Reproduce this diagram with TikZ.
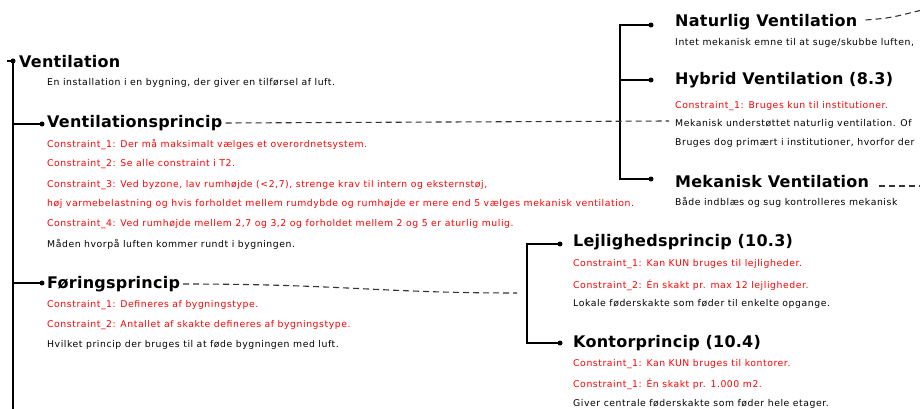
\documentclass[tikz,border=0pt]{standalone}
\usepackage{fontspec}
\setmainfont{DejaVu Sans}
\newfontfamily\titlefam[LetterSpace=1.5]{DejaVu Sans}
\newfontfamily\textfam[LetterSpace=6]{DejaVu Sans}
\begin{document}
\begin{tikzpicture}[x=1pt,y=-1pt,
  title/.style={anchor=west, inner sep=0pt, font=\titlefam\bfseries\fontsize{16}{18}\selectfont},
  desc/.style={anchor=west, inner sep=0pt, font=\textfam\fontsize{9.3}{11}\selectfont},
  con/.style={desc, text=red},
  dot/.style={circle, fill=black, inner sep=0pt, minimum size=5pt},
  branch/.style={line width=1.3pt, line join=miter},
  link/.style={dash pattern=on 6pt off 4pt, line width=1.1pt, black!80}]
\useasboundingbox (0,0) rectangle (920,409);
\clip (0,0) rectangle (920,409);

% ---- root ----
\node[dot] (ventdot) at (13,61) {};
\coordinate (stub) at (7,61);
\coordinate (trunkend) at (13,412);
\node[title] (vent) at (19,62) {Ventilation};
\node[desc] (ventd) at (47,83) {En installation i en bygning, der giver en tilførsel af luft.};

% ---- Ventilationsprincip ----
\node[dot] (vpdot) at (42,124) {};
\node[title] (vp) at (47,123) {Ventilationsprincip};
\node[con] (vpc1) at (47,145) {Constraint\_1: Der må maksimalt vælges et overordnetsystem.};
\node[con] (vpc2) at (47,164) {Constraint\_2: Se alle constraint i T2.};
\node[con] (vpc3) at (47,185) {Constraint\_3: Ved byzone, lav rumhøjde (<2,7), strenge krav til intern og eksternstøj,};
\node[con] (vpc3b) at (47,204) {høj varmebelastning og hvis forholdet mellem rumdybde og rumhøjde er mere end 5 vælges mekanisk ventilation.};
\node[con] (vpc4) at (47,224) {Constraint\_4: Ved rumhøjde mellem 2,7 og 3,2 og forholdet mellem 2 og 5 er aturlig mulig.};
\node[desc] (vpd) at (47,244) {Måden hvorpå luften kommer rundt i bygningen.};

% ---- Føringsprincip ----
\node[dot] (fpdot) at (42,283) {};
\node[title] (fp) at (47,284) {Føringsprincip};
\node[con] (fpc1) at (47,305) {Constraint\_1: Defineres af bygningstype.};
\node[con] (fpc2) at (47,325) {Constraint\_2: Antallet af skakte defineres af bygningstype.};
\node[desc] (fpd) at (47,345) {Hvilket princip der bruges til at føde bygningen med luft.};

% ---- ventilation types ----
\coordinate (rspine) at (620,0);
\node[dot] (nvdot) at (651,25) {};
\node[title] (nv) at (675,22) {Naturlig Ventilation};
\node[desc] (nvd) at (675,43) {Intet mekanisk emne til at suge/skubbe luften,};
\node[dot] (hvdot) at (651,80) {};
\node[title] (hv) at (675,80) {Hybrid Ventilation (8.3)};
\node[con] (hvc1) at (675,106) {Constraint\_1: Bruges kun til institutioner.};
\node[desc] (hvd) at (675,124) {Mekanisk understøttet naturlig ventilation. Of};
\node[desc] (hvd2) at (675,143) {Bruges dog primært i institutioner, hvorfor der};
\node[dot] (mvdot) at (651,179) {};
\node[title] (mv) at (675,182) {Mekanisk Ventilation};
\node[desc] (mvd) at (675,202) {Både indblæs og sug kontrolleres mekanisk};
\coordinate (nvout) at (922,10);
\coordinate (mvout) at (922,186);

% ---- feeding principles ----
\coordinate (lspine) at (527,0);
\node[dot] (lpdot) at (560,244) {};
\node[title] (lp) at (573,242) {Lejlighedsprincip (10.3)};
\node[con] (lpc1) at (573,264) {Constraint\_1: Kan KUN bruges til lejligheder.};
\node[con] (lpc2) at (573,285) {Constraint\_2: Én skakt pr. max 12 lejligheder.};
\node[desc] (lpd) at (573,304) {Lokale føderskakte som føder til enkelte opgange.};
\node[dot] (kpdot) at (560,343) {};
\node[title] (kp) at (573,343) {Kontorprincip (10.4)};
\node[con] (kpc1) at (573,364) {Constraint\_1: Kan KUN bruges til kontorer.};
\node[con] (kpc2) at (573,384) {Constraint\_1: Én skakt pr. 1.000 m2.};
\node[desc] (kpd) at (573,404) {Giver centrale føderskakte som føder hele etager.};
\coordinate (lfork) at (517,293);

% ---- tree branches ----
\draw[branch] (stub) -- (ventdot.center);
\draw[branch] (ventdot.center) -- (trunkend);
\draw[branch] (vpdot -| ventdot) -- (vpdot.center);
\draw[branch] (fpdot -| ventdot) -- (fpdot.center);
\draw[branch] (nvdot.center) -- (rspine |- nvdot) -- (rspine |- mvdot) -- (mvdot.center);
\draw[branch] (rspine |- hvdot) -- (hvdot.center);
\draw[branch] (lpdot.center) -- (lspine |- lpdot) -- (lspine |- kpdot) -- (kpdot.center);

% ---- dashed relations ----
\draw[link] ([xshift=3pt]vp.east) -- ([xshift=-6pt,yshift=3pt]hvd.west);
\draw[link] ([xshift=3pt]fp.east) .. controls (340,284) and (380,293) .. (lfork);
\draw[link] ([xshift=8pt,yshift=2pt]nv.east) .. controls (890,18) .. (nvout);
\draw[link] ([xshift=10pt,yshift=-4pt]mv.east) -- (mvout);
\end{tikzpicture}
\end{document}
